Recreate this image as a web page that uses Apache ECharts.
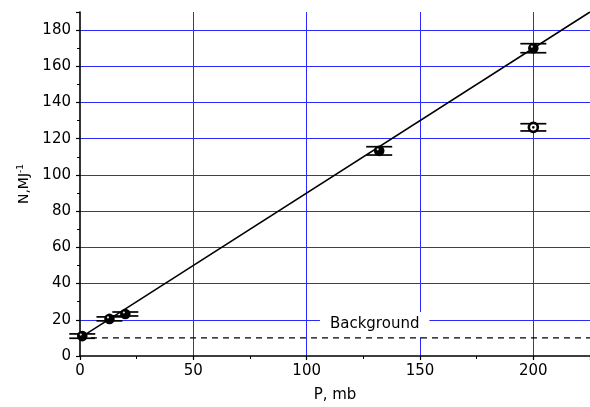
<!DOCTYPE html>
<html>
<head>
<meta charset="utf-8">
<script src="https://cdn.jsdelivr.net/npm/echarts@6/dist/echarts.min.js"></script>
<style>html,body{margin:0;padding:0;background:#fff}#c{width:590px;height:407px}</style>
</head>
<body>
<div id="c"></div>
<script>
// Filled points: [P, N, yError]
var filledP = [1, 13, 20, 132, 200];
var filledN = [11, 20.5, 23.2, 113.3, 170];
var filledErr = [1.2, 1.1, 1.1, 2.3, 2.5];
// Open point
var openP = [200];
var openN = [126.3];
var openErr = [2];
// Linear fit
var fitP = [0, 225];
var fitN = [10, 190];
// Background level
var bgP = [0, 225];
var bgN = [10, 10];
var bgLabel = 'Background';
var bgLabelPos = [130, 17.4];

var chart = echarts.init(document.getElementById('c'));
var font = 'DejaVu Sans, Verdana, sans-serif';

function pts(xs, ys, es) {
  return xs.map(function (x, i) { return [x, ys[i], es[i]]; });
}

function renderMarker(open) {
  return function (params, api) {
    var x = api.value(0), y = api.value(1), e = api.value(2);
    var c = api.coord([x, y]);
    var top = api.coord([x, y + e]);
    var bot = api.coord([x, y - e]);
    var hw = 13;
    var ls = { stroke: '#000', lineWidth: 1.7 };
    var children = [
      { type: 'line', shape: { x1: c[0], y1: top[1], x2: c[0], y2: bot[1] }, style: ls },
      { type: 'line', shape: { x1: c[0] - hw, y1: top[1], x2: c[0] + hw, y2: top[1] }, style: ls },
      { type: 'line', shape: { x1: c[0] - hw, y1: bot[1], x2: c[0] + hw, y2: bot[1] }, style: ls }
    ];
    if (open) {
      children.push({ type: 'circle', shape: { cx: c[0], cy: c[1], r: 4.5 }, style: { fill: '#fff', stroke: '#000', lineWidth: 2.6 } });
      children.push({ type: 'circle', shape: { cx: c[0], cy: c[1], r: 1.3 }, style: { fill: '#000' } });
    } else {
      children.push({ type: 'circle', shape: { cx: c[0], cy: c[1], r: 5.3 }, style: { fill: '#000' } });
      children.push({ type: 'circle', shape: { cx: c[0] - 1.5, cy: c[1] - 1.5, r: 1.1 }, style: { fill: '#ddd' } });
    }
    return { type: 'group', children: children };
  };
}

function renderLabel(params, api) {
  var c = api.coord([api.value(0), api.value(1)]);
  return {
    type: 'text', x: c[0], y: c[1],
    style: {
      text: bgLabel, fontFamily: font, fontSize: 15, fill: '#000',
      align: 'center', verticalAlign: 'middle',
      backgroundColor: '#fff', padding: [5, 10, 5, 10]
    }
  };
}

chart.setOption({
  animation: false,
  backgroundColor: '#fff',
  grid: { left: 80, right: 0, top: 12, bottom: 51, containLabel: false, outerBoundsMode: 'none' },
  xAxis: {
    type: 'value', min: 0, max: 225, interval: 50,
    name: 'P, mb', nameLocation: 'middle', nameGap: 32,
    nameTextStyle: { fontFamily: font, fontSize: 15, color: '#000' },
    axisLine: { show: true, onZero: false, lineStyle: { color: '#000', width: 1.6 } },
    axisTick: { show: true, length: 4, lineStyle: { color: '#000', width: 1.2 } },
    minorTick: { show: true, splitNumber: 2, length: 3, lineStyle: { color: '#000', width: 1 } },
    axisLabel: { fontFamily: font, fontSize: 15, color: '#000', margin: 8, showMaxLabel: false },
    splitLine: { show: true, showMinLine: false, showMaxLine: false, lineStyle: { color: '#2a2aff', width: 1 } }
  },
  yAxis: {
    type: 'value', min: 0, max: 190, interval: 20,
    name: 'N,MJ{s|-1}', nameLocation: 'middle', nameGap: 47,
    nameTextStyle: { fontFamily: font, fontSize: 14, color: '#000', rich: { s: { fontSize: 9, verticalAlign: 'top', padding: [0, 0, 8, 0], fontFamily: font } } },
    axisLine: { show: true, onZero: false, lineStyle: { color: '#000', width: 1.6 } },
    axisTick: { show: true, length: 4, lineStyle: { color: '#000', width: 1.2 } },
    minorTick: { show: true, splitNumber: 2, length: 3, lineStyle: { color: '#000', width: 1 } },
    axisLabel: { fontFamily: font, fontSize: 15, color: '#000', margin: 9, showMaxLabel: false },
    splitLine: { show: true, showMinLine: false, showMaxLine: false, lineStyle: { color: '#2a2aff', width: 1 } }
  },
  series: [
    {
      type: 'line', data: bgP.map(function (x, i) { return [x, bgN[i]]; }),
      symbol: 'none', lineStyle: { color: '#000', width: 1.2, type: [6, 5] }, z: 3
    },
    {
      type: 'custom', renderItem: renderLabel, data: [bgLabelPos], z: 4
    },
    {
      type: 'line', data: fitP.map(function (x, i) { return [x, fitN[i]]; }),
      symbol: 'none', lineStyle: { color: '#000', width: 1.5 }, z: 5
    },
    {
      type: 'custom', renderItem: renderMarker(false), data: pts(filledP, filledN, filledErr), z: 6, clip: false
    },
    {
      type: 'custom', renderItem: renderMarker(true), data: pts(openP, openN, openErr), z: 6, clip: false
    }
  ]
});
</script>
</body>
</html>
